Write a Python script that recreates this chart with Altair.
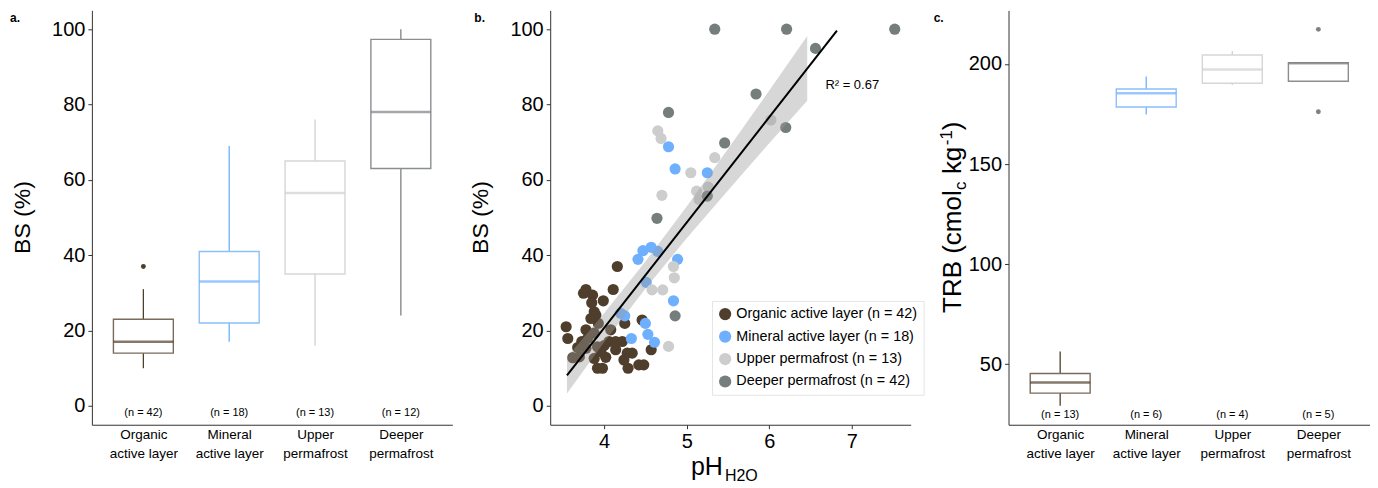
import altair as alt
import pandas as pd

FONT = "Liberation Sans"

# ---------------- shared categories ----------------
cats = ["Organic active layer", "Mineral active layer", "Upper permafrost", "Deeper permafrost"]
point_colors = ["#4f3e2b", "#6fb0fe", "#cdcdcd", "#757d7d"]
line_colors = ["#4f3e2b", "#6fb0fe", "#d0d0d0", "#7d8284"]
box_colors = ["#7a6b5c", "#8cc0fb", "#d6d6d6", "#8a8e90"]

# ---------------- panel a: BS (%) boxplots ----------------
bs_lower = [10, 17, 16, 24]
bs_q1 = [14, 22, 35, 63]
bs_med = [17, 33, 56.5, 78]
bs_q3 = [23, 41, 65, 97.3]
bs_upper = [31, 69, 76, 100]
bs_out_cat = ["Organic active layer"]
bs_out_val = [37]
bs_n = ["(n = 42)", "(n = 18)", "(n = 13)", "(n = 12)"]
bs_ticks = [0, 20, 40, 60, 80, 100]

# ---------------- panel c: TRB boxplots ----------------
trb_lower = [29.2, 174.8, 189.5, 191.4]
trb_q1 = [35.5, 178.5, 190.4, 191.4]
trb_med = [40.8, 185.4, 197.2, 200.3]
trb_q3 = [45.3, 187.5, 204.5, 200.6]
trb_upper = [56.3, 193.7, 206.5, 200.6]
trb_out_cat = ["Deeper permafrost", "Deeper permafrost"]
trb_out_val = [217.3, 176.1]
trb_n = ["(n = 13)", "(n = 6)", "(n = 4)", "(n = 5)"]
trb_ticks = [50, 100, 150, 200]

# ---------------- panel b: scatter ----------------
legend_labels = ["Organic active layer (n = 42)", "Mineral active layer (n = 18)",
                 "Upper permafrost (n = 13)", "Deeper permafrost (n = 42)"]

organic_ph = [3.54, 3.56, 3.62, 4.16, 4.11, 3.78, 3.75, 3.86, 3.99, 3.85, 3.88, 3.90, 4.46, 4.25,
              3.78, 4.08, 3.93, 3.88, 3.73, 4.06, 4.22, 3.78, 3.92, 4.14, 4.57, 4.34, 4.02, 3.88,
              4.24, 3.92, 3.98, 4.29, 4.42, 4.48, 3.80, 3.70, 3.84, 3.96, 4.28, 4.14, 3.68, 4.00]
organic_bs = [21.0, 17.9, 12.8, 37.0, 30.9, 30.9, 29.9, 29.4, 27.9, 27.4, 25.0, 24.1, 22.8, 21.9,
              20.2, 20.2, 21.9, 19.3, 17.1, 17.1, 17.1, 15.3, 15.7, 14.9, 14.9, 14.0, 12.9, 12.6,
              12.2, 10.0, 10.0, 10.0, 10.9, 10.9, 17.9, 13.0, 23.2, 14.4, 14.0, 17.1, 15.5, 16.0]
mineral_ph = [4.78, 4.86, 5.25, 4.57, 4.47, 4.41, 4.89, 4.65, 4.51, 4.84, 4.20, 4.25, 4.50, 4.53,
              4.61, 4.33]
mineral_bs = [68.8, 62.9, 61.9, 42.1, 41.2, 38.9, 38.9, 41.0, 32.8, 27.9, 24.6, 23.9, 21.9, 19.0,
              16.9, 17.9]
upper_ph = [4.65, 4.69, 4.70, 5.05, 5.34, 5.12, 5.15, 5.26, 6.02, 4.84, 4.85, 4.58, 4.71, 4.78]
upper_bs = [73.0, 71.0, 55.9, 61.9, 65.9, 57.0, 54.8, 58.1, 75.9, 37.0, 34.0, 30.8, 30.8, 15.8]
deeper_ph = [5.34, 6.21, 7.52, 6.56, 5.84, 4.78, 6.20, 5.46, 4.64, 5.25, 4.86]
deeper_bs = [100, 100, 100, 94.9, 82.8, 77.9, 73.9, 69.8, 49.8, 55.7, 23.9]

fit_ph = [3.55, 6.82]
fit_bs = [8.1, 99.6]
band_ph = [3.55, 4.0, 4.5, 5.0, 5.5, 6.0, 6.46]
band_lo = [3.3, 16.9, 31.1, 44.5, 57.2, 69.7, 81.0]
band_hi = [12.9, 24.6, 38.3, 52.9, 68.2, 83.7, 98.2]
r2_text = ["R\u00b2 = 0.67"]
r2_ph = [6.68]
r2_bs = [85.1]
ph_ticks = [4, 5, 6, 7]

W, H = 361, 415

label_expr = ("[slice(datum.label, 0, indexof(datum.label, ' ')), "
              "slice(datum.label, indexof(datum.label, ' ') + 1)]")


def text_layer(texts, x, y, size, angle=0, align="center", baseline="middle", weight="normal"):
    df = pd.DataFrame({"t": texts})
    return alt.Chart(df).mark_text(
        font=FONT, fontSize=size, angle=angle, align=align, baseline=baseline,
        fontWeight=weight, color="black"
    ).encode(x=alt.value(x), y=alt.value(y), text="t:N")


def box_panel(lower, q1, med, q3, upper, out_cat, out_val, n_labels, n_y, ydomain, yticks):
    df = pd.DataFrame({
        "cat": cats, "lower": lower, "q1": q1, "med": med, "q3": q3, "upper": upper,
        "n": n_labels, "ny": [n_y] * len(cats),
        "lc": line_colors, "bc": box_colors,
    })
    pc = {c: col for c, col in zip(cats, line_colors)}
    odf = pd.DataFrame({"cat": out_cat, "v": out_val, "c": [pc[c] for c in out_cat]})
    xenc = alt.X("cat:N", scale=alt.Scale(type="point", padding=0.6, domain=cats),
                 axis=alt.Axis(title=None, ticks=False, labelAngle=0, labelExpr=label_expr,
                               labelFontSize=13.5, labelLineHeight=19, labelPadding=3,
                               labelBaseline="top", grid=False))
    yscale = alt.Scale(domain=ydomain, nice=False, zero=False)
    yaxis = alt.Axis(title=None, values=yticks, labelFontSize=20, tickSize=4, labelPadding=3,
                     grid=False)
    base = alt.Chart(df)
    whisk = base.mark_rule(strokeWidth=1.3).encode(
        x=xenc, y=alt.Y("lower:Q", scale=yscale, axis=yaxis), y2="upper:Q",
        stroke=alt.Stroke("lc:N", scale=None))
    box = base.mark_bar(size=60, fill="white", strokeWidth=1.4).encode(
        x=xenc, y="q1:Q", y2="q3:Q", stroke=alt.Stroke("bc:N", scale=None))
    medl = base.mark_tick(size=60, thickness=2.5).encode(
        x=xenc, y="med:Q", color=alt.Color("lc:N", scale=None))
    outl = alt.Chart(odf).mark_circle(size=24, opacity=1).encode(
        x=xenc, y="v:Q", color=alt.Color("c:N", scale=None))
    ntext = base.mark_text(font=FONT, fontSize=11, color="black").encode(
        x=xenc, y="ny:Q", text="n:N")
    return whisk + box + medl + outl + ntext


# panel a
panel_a = alt.layer(
    box_panel(bs_lower, bs_q1, bs_med, bs_q3, bs_upper, bs_out_cat, bs_out_val,
              bs_n, -2, [-5, 105], bs_ticks),
    text_layer(["BS (%)"], -69, 207.5, 23, angle=270),
    text_layer(["a."], -82, 8, 12, align="left", weight="bold"),
).properties(width=W, height=H)

# panel b
grp = ([legend_labels[0]] * len(organic_ph) + [legend_labels[1]] * len(mineral_ph)
       + [legend_labels[2]] * len(upper_ph) + [legend_labels[3]] * len(deeper_ph))
sc = pd.DataFrame({
    "ph": organic_ph + mineral_ph + upper_ph + deeper_ph,
    "bs": organic_bs + mineral_bs + upper_bs + deeper_bs,
    "grp": grp,
})
xs = alt.Scale(domain=[3.347, 7.713], nice=False, zero=False)
ys = alt.Scale(domain=[-5, 105], nice=False, zero=False)
points = alt.Chart(sc).mark_circle(size=125, opacity=1, fillOpacity=1).encode(
    x=alt.X("ph:Q", scale=xs, axis=alt.Axis(title=None, values=ph_ticks, format="d",
                                            labelFontSize=20, tickSize=4, labelPadding=3,
                                            grid=False)),
    y=alt.Y("bs:Q", scale=ys, axis=alt.Axis(title=None, values=bs_ticks, labelFontSize=20,
                                            tickSize=4, labelPadding=3, grid=False)),
    color=alt.Color("grp:N", scale=alt.Scale(domain=legend_labels, range=point_colors),
                    legend=alt.Legend(title=None, orient="none", legendX=621, legendY=291,
                                      strokeColor="#e4e4e4", fillColor="white", padding=6,
                                      labelFontSize=14.4, labelFont=FONT, symbolSize=150,
                                      symbolType="circle", rowPadding=7.5, symbolStrokeWidth=0,
                                      labelLimit=400, symbolOpacity=1)),
)
band = alt.Chart(pd.DataFrame({"ph": band_ph, "lo": band_lo, "hi": band_hi})).mark_area(
    color="#9a9a9a", opacity=0.4).encode(x=alt.X("ph:Q", scale=xs), y=alt.Y("lo:Q", scale=ys), y2="hi:Q")
fit = alt.Chart(pd.DataFrame({"ph": fit_ph, "bs": fit_bs})).mark_line(
    color="black", strokeWidth=2).encode(x=alt.X("ph:Q", scale=xs), y=alt.Y("bs:Q", scale=ys))
r2 = alt.Chart(pd.DataFrame({"t": r2_text, "ph": r2_ph, "bs": r2_bs})).mark_text(
    font=FONT, fontSize=13, align="left", baseline="middle", color="black").encode(
    x=alt.X("ph:Q", scale=xs), y=alt.Y("bs:Q", scale=ys), text="t:N")

panel_b = alt.layer(
    points, band, fit, r2,
    text_layer(["BS (%)"], -69, 207.5, 23, angle=270),
    text_layer(["b."], -76, 8, 12, align="left", weight="bold"),
    text_layer(["pH"], 141, 465, 25, align="left", baseline="alphabetic"),
    text_layer(["H2O"], 175, 471, 16, align="left", baseline="alphabetic"),
).properties(width=W, height=H)

# panel c
panel_c = alt.layer(
    box_panel(trb_lower, trb_q1, trb_med, trb_q3, trb_upper, trb_out_cat, trb_out_val,
              trb_n, 24.7, [19.7, 226.8], trb_ticks),
    text_layer(["TRB (cmol"], -48, 303, 26, angle=270, align="left", baseline="alphabetic"),
    text_layer(["c"], -43, 180, 17, angle=270, align="left", baseline="alphabetic"),
    text_layer(["kg"], -48, 164, 26, angle=270, align="left", baseline="alphabetic"),
    text_layer(["-1"], -57, 135, 17, angle=270, align="left", baseline="alphabetic"),
    text_layer([")"], -48, 120, 26, angle=270, align="left", baseline="alphabetic"),
    text_layer(["c."], -75, 8, 12, align="left", weight="bold"),
).properties(width=W + 1, height=H)

chart = alt.hconcat(panel_a, panel_b, panel_c, spacing=98, bounds="flush").properties(
    padding={"left": 2, "top": 2, "right": 0, "bottom": 0}
).configure_view(stroke=None).configure_axis(
    grid=False, domainColor="#333333", tickColor="#333333", labelColor="black",
    labelFont=FONT, domainWidth=1, tickWidth=1
).configure_legend(symbolOpacity=1)

chart.save("out.html", embed_options={"renderer": "svg", "actions": False})
